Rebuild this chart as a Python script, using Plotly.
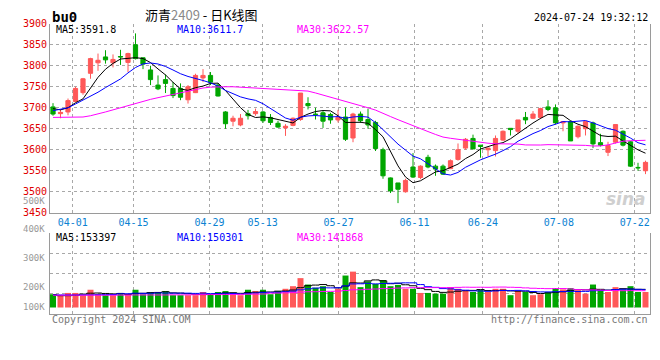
import plotly.graph_objects as go

# ---------------- data ----------------
dates = ["03-27","03-28","03-29","04-01","04-02","04-03","04-08","04-09","04-10","04-11",
         "04-12","04-15","04-16","04-17","04-18","04-19","04-22","04-23","04-24","04-25",
         "04-26","04-29","04-30","05-06","05-07","05-08","05-09","05-10","05-13","05-14",
         "05-15","05-16","05-17","05-20","05-21","05-22","05-23","05-24","05-27","05-28",
         "05-29","05-30","05-31","06-03","06-04","06-05","06-06","06-07","06-11","06-12",
         "06-13","06-14","06-17","06-18","06-19","06-20","06-21","06-24","06-25","06-26",
         "06-27","06-28","07-01","07-02","07-03","07-04","07-05","07-08","07-09","07-10",
         "07-11","07-12","07-15","07-16","07-17","07-18","07-19","07-22","07-23","07-24"]

opens = [3702,3686,3690,3715,3736,3782,3807,3821,3807,3822,
         3808,3850,3819,3790,3754,3767,3746,3746,3719,3736,
         3771,3777,3754,3690,3668,3659,3686,3686,3690,3677,
         3663,3652,3658,3672,3710,3685,3688,3684,3671,3678,
         3628,3685,3672,3665,3600,3533,3521,3500,3559,3534,
         3582,3561,3561,3555,3577,3604,3627,3611,3600,3598,
         3623,3651,3644,3677,3675,3677,3702,3700,3664,3667,
         3631,3650,3664,3617,3594,3618,3644,3619,3558,3550]
highs = [3711,3696,3722,3750,3771,3819,3829,3837,3827,3838,
         3831,3877,3819,3800,3777,3779,3761,3758,3754,3781,
         3792,3785,3758,3692,3681,3685,3695,3698,3692,3685,
         3669,3661,3677,3735,3725,3700,3692,3688,3695,3700,
         3688,3691,3698,3669,3605,3534,3521,3531,3592,3563,
         3588,3565,3565,3577,3615,3628,3636,3611,3605,3634,
         3646,3651,3671,3690,3692,3700,3718,3708,3667,3669,
         3658,3669,3667,3638,3619,3660,3646,3621,3569,3574]
lows = [3681,3675,3682,3714,3731,3769,3788,3805,3796,3802,
        3785,3815,3792,3754,3742,3735,3723,3718,3710,3735,
        3761,3754,3727,3650,3656,3656,3672,3681,3664,3659,
        3652,3633,3656,3669,3696,3672,3652,3662,3665,3621,
        3618,3664,3650,3597,3531,3497,3473,3498,3533,3530,
        3556,3538,3540,3554,3574,3600,3602,3581,3585,3584,
        3621,3634,3638,3661,3673,3673,3692,3660,3644,3621,
        3627,3634,3604,3608,3585,3615,3608,3559,3550,3542]
closes = [3685,3689,3717,3746,3769,3817,3813,3814,3815,3821,
          3829,3817,3804,3767,3745,3758,3729,3725,3750,3777,
          3777,3761,3728,3662,3675,3675,3681,3691,3669,3665,
          3654,3656,3675,3735,3705,3684,3668,3671,3677,3625,
          3685,3669,3659,3603,3538,3502,3506,3527,3535,3561,
          3559,3554,3542,3574,3600,3625,3602,3608,3604,3627,
          3644,3648,3671,3671,3685,3698,3696,3664,3667,3621,
          3656,3667,3614,3611,3610,3660,3611,3561,3557,3570]
volumes = [112000,104000,123000,123000,104000,150000,112000,104000,104000,123000,
           112000,150000,112000,131000,131000,139000,104000,104000,104000,104000,
           131000,112000,131000,139000,112000,104000,150000,139000,150000,112000,
           139000,158000,180000,248000,194000,167000,180000,131000,158000,270000,
           303000,172000,221000,199000,232000,180000,191000,158000,158000,123000,
           123000,117000,117000,172000,158000,145000,131000,150000,131000,158000,
           158000,104000,139000,131000,104000,112000,131000,164000,153000,164000,
           147000,117000,194000,145000,131000,172000,153000,180000,131000,131000]

# moving-average values read off the chart where earlier history is not shown
ma5_head = [3698, 3695, 3700, 3712]
ma10_head = [3693, 3696, 3700, 3709, 3718, 3727, 3737, 3748, 3758]
ma30_head = [3677, 3677, 3677, 3678, 3678, 3681, 3685, 3690, 3695, 3700,
             3705, 3711, 3716, 3720, 3724, 3728, 3731, 3735, 3739, 3743,
             3747, 3749, 3750, 3750, 3750, 3749, 3748, 3747, 3746]
vma5_head = [108000, 100000, 100000, 102000]
vma10_head = [106000, 106000, 106000, 106000, 106000, 107000, 108000, 109000, 110000]
vma30_head = [104000, 104000, 104000, 104000, 104000, 104000, 104000, 104000, 104000, 105000,
              105000, 106000, 106000, 106000, 106000, 106000, 107000, 107000, 107000, 108000,
              109000, 109000, 109000, 110000, 110000, 111000, 112000, 113000, 114000]

# legend readouts as printed on the chart
price_ma_text = ["MA5:3591.8", "MA10:3611.7", "MA30:3622.57"]
vol_ma_text = ["MA5:153397", "MA10:150301", "MA30:141868"]

tick_dates = ["04-01", "04-15", "04-29", "05-13", "05-27", "06-11", "06-24", "07-08", "07-22"]
price_ticks = [3450, 3500, 3550, 3600, 3650, 3700, 3750, 3800, 3850, 3900]
vol_labels = ["500K", "400K", "300K", "200K", "100K"]


def moving_avg(vals, n, head):
    out = list(head)
    for i in range(len(head), len(vals)):
        out.append(sum(vals[i - n + 1:i + 1]) / n)
    return out


idx = list(range(len(dates)))
ma5 = moving_avg(closes, 5, ma5_head)
ma10 = moving_avg(closes, 10, ma10_head)
ma30 = moving_avg(closes, 30, ma30_head)
vma5 = moving_avg(volumes, 5, vma5_head)
vma10 = moving_avg(volumes, 10, vma10_head)
vma30 = moving_avg(volumes, 30, vma30_head)

# ---------------- style ----------------
W, H = 660, 360
RED = "#ff5858"
GREEN = "#00a600"
GRID = "#a8a8a8"
AXIS = "#9a9a9a"
MONO = "DejaVu Sans Mono"
N = len(dates)


def py(px):  # screen y pixel -> paper fraction
    return 1 - px / H


def px_x(px):
    return px / W


xdom = [px_x(50), px_x(650)]
xr = [-0.4, N - 0.4]
n_idx = [dates.index(d) for d in tick_dates]
grid_x = [i * N / (N - 1) - 0.4 for i in n_idx]

fig = go.Figure()

fig.add_trace(go.Candlestick(
    x=idx, open=opens, high=highs, low=lows, close=closes,
    increasing=dict(line=dict(color=RED, width=1), fillcolor=RED),
    decreasing=dict(line=dict(color=GREEN, width=1), fillcolor=GREEN),
    whiskerwidth=0, showlegend=False, hoverinfo="skip",
    xaxis="x", yaxis="y"))
for vals, col in [(ma5, "black"), (ma10, "#0000ff"), (ma30, "#ff00ff")]:
    fig.add_trace(go.Scatter(x=idx, y=vals, mode="lines", line=dict(color=col, width=1),
                             showlegend=False, hoverinfo="skip", xaxis="x", yaxis="y"))

bar_colors = [RED if c >= o else GREEN for o, c in zip(opens, closes)]
fig.add_trace(go.Bar(x=idx, y=volumes, marker=dict(color=bar_colors, line=dict(width=0)),
                     width=0.8, showlegend=False, hoverinfo="skip", xaxis="x2", yaxis="y2"))
for vals, col in [(vma5, "black"), (vma10, "#0000ff"), (vma30, "#ff00ff")]:
    fig.add_trace(go.Scatter(x=idx, y=vals, mode="lines", line=dict(color=col, width=1, shape="hvh"),
                             showlegend=False, hoverinfo="skip", xaxis="x2", yaxis="y2"))

# volume axis scale: zero at y=311px, 8190 per pixel
vpp = 8190
vdom_bot, vdom_top, vzero = 317.7, 234.0, 311.0
vrange = [-(vdom_bot - vzero) * vpp, (vzero - vdom_top) * vpp]
vgrid = [vrange[0] + (vrange[1] - vrange[0]) * k / 4 for k in range(1, 5)]

fig.update_layout(
    width=W, height=H, margin=dict(l=0, r=0, t=0, b=0),
    paper_bgcolor="white", plot_bgcolor="white",
    boxgap=0.2, bargap=0.2, showlegend=False,
    font=dict(family=MONO, size=10, color="black"),
    xaxis=dict(domain=xdom, range=xr, anchor="y", tickmode="array", tickvals=grid_x, ticktext=tick_dates,
               showgrid=True, gridcolor=GRID, griddash="dot", gridwidth=1, zeroline=False,
               showline=True, linecolor=AXIS, linewidth=1, ticks="",
               tickfont=dict(family=MONO, size=10, color="#0a82d2"), rangeslider=dict(visible=False)),
    yaxis=dict(domain=[py(213.3), py(18.3)], range=[3450, 3900], anchor="x", tickmode="array",
               tickvals=price_ticks, showgrid=True, gridcolor=GRID, griddash="dot", gridwidth=1,
               zeroline=False, showline=True, mirror=True, linecolor=AXIS, linewidth=1, ticks="",
               tickfont=dict(family=MONO, size=10, color="#e00000")),
    xaxis2=dict(domain=xdom, range=xr, anchor="y2", tickmode="array", tickvals=grid_x,
                showticklabels=False, showgrid=True, gridcolor=GRID, griddash="dot", gridwidth=1,
                zeroline=False, showline=True, linecolor=AXIS, linewidth=1, ticks=""),
    yaxis2=dict(domain=[py(vdom_bot), py(vdom_top)], range=vrange, anchor="x2", tickmode="array",
                tickvals=vgrid, showticklabels=False, showgrid=True, gridcolor=GRID, griddash="dot",
                zeroline=False, showline=True, mirror=True, linecolor=AXIS, linewidth=1, ticks=""),
)

ann = []


def text(x, y, s, color="black", size=10, xanchor="left", family=MONO, **kw):
    ann.append(dict(x=px_x(x), y=py(y), xref="paper", yref="paper", text=s, showarrow=False,
                    xanchor=xanchor, yanchor="middle", font=dict(family=family, size=size, color=color), **kw))


text(50, 11, "<b>bu0</b>", size=14)
text(201, 9, "沥青<span style='color:#888888'>2409</span> - 日K线图", size=13,
     xanchor="center", family="Noto Sans CJK SC")
text(650, 12, "2024-07-24 19:32:12", xanchor="right")
for s, x0, col in zip(price_ma_text, [54, 175, 295], ["black", "#0000ff", "#ff00ff"]):
    text(x0, 24, s, color=col)
for s, x0, col in zip(vol_ma_text, [54, 175, 295], ["black", "#0000ff", "#ff00ff"]):
    text(x0, 239, s, color=col)
for lab, yy in zip(vol_labels, [201, 230, 260, 290, 310]):
    text(47, yy, lab, color="#999999", xanchor="right", size=9)
text(50, 323, "Copyright 2024 SINA.COM", color="#777777")
text(650, 323, "http://finance.sina.com.cn", color="#777777", xanchor="right")
text(648, 199, "<b><i>sina</i></b>", color="#cfcfcf", size=17, xanchor="right", family="DejaVu Sans")
fig.update_layout(annotations=ann)

fig.write_html("out.html", config={"displayModeBar": False},
               post_script="document.body.style.margin='0px';document.body.style.padding='0px';")
